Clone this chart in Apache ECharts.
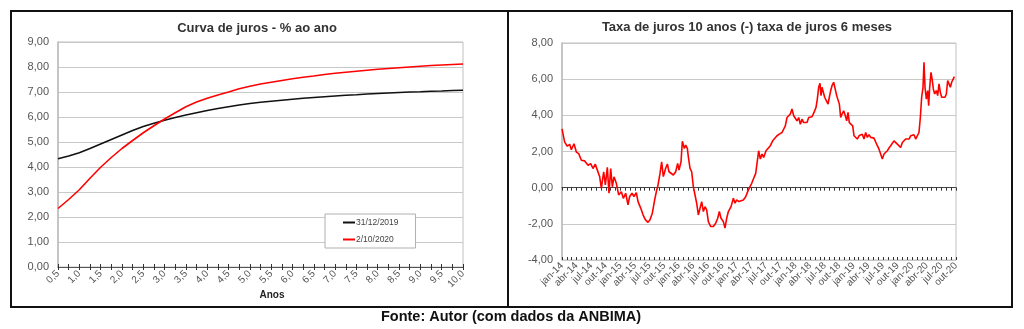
<!DOCTYPE html>
<html><head><meta charset="utf-8">
<script src="https://cdn.jsdelivr.net/npm/echarts@6/dist/echarts.min.js"></script>
<style>html,body{margin:0;padding:0;background:#fff}#c{width:1024px;height:329px}</style>
</head><body><div id="c"></div>
<script>
// ---- Left chart: yield curves ----
const years = [0.5,0.75,1.0,1.25,1.5,1.75,2.0,2.25,2.5,2.75,3.0,3.25,3.5,3.75,4.0,4.25,4.5,4.75,5.0,5.25,5.5,5.75,6.0,6.25,6.5,6.75,7.0,7.25,7.5,7.75,8.0,8.25,8.5,8.75,9.0,9.25,9.5,9.75,10.0];
const curve2019 = [4.33,4.44,4.57,4.74,4.92,5.10,5.28,5.46,5.62,5.75,5.87,5.98,6.08,6.17,6.26,6.34,6.41,6.48,6.54,6.59,6.63,6.67,6.71,6.75,6.78,6.81,6.84,6.87,6.89,6.92,6.94,6.96,6.98,7.00,7.01,7.03,7.04,7.06,7.07];
const curve2020 = [2.34,2.70,3.09,3.55,3.99,4.38,4.74,5.06,5.37,5.65,5.92,6.17,6.41,6.60,6.75,6.88,7.00,7.13,7.23,7.32,7.39,7.46,7.53,7.59,7.64,7.70,7.75,7.79,7.83,7.87,7.91,7.94,7.97,8.00,8.03,8.06,8.08,8.10,8.12];
const seriesNames = ['31/12/2019','2/10/2020'];

// ---- Right chart: 10y minus 6m spread (x = months since jan-14) ----
const quarterLabels = ['jan-14','abr-14','jul-14','out-14','jan-15','abr-15','jul-15','out-15','jan-16','abr-16','jul-16','out-16','jan-17','abr-17','jul-17','out-17','jan-18','abr-18','jul-18','out-18','jan-19','abr-19','jul-19','out-19','jan-20','abr-20','jul-20','out-20'];
const spreadMonths = [0,0.55,1.10,1.58,1.92,2.47,2.95,3.43,3.98,4.66,5.35,5.89,6.37,6.85,7.27,7.75,8.09,8.57,8.91,9.32,9.66,10.01,10.35,10.69,11.17,11.65,12.20,12.61,13.09,13.57,13.91,14.39,14.80,15.28,15.63,16.18,16.66,17.13,17.68,18.09,18.57,19.05,19.47,
19.67,20.15,20.49,20.83,21.31,21.66,22.00,22.41,22.89,23.37,23.78,24.05,24.47,24.74,25.15,25.43,25.77,25.97,26.32,26.66,27.00,27.34,27.69,28.03,28.37,28.72,29.06,29.40,29.74,30.09,30.57,31.11,31.59,32.01,32.35,32.69,33.17,33.51,33.86,34.20,34.75,35.23,35.57,35.91,36.39,36.80,37.28,37.76,38.17,38.65,39.00,39.41,39.82,
40.09,40.43,40.77,41.12,41.46,41.94,42.35,42.83,43.31,43.72,44.20,44.68,45.23,45.64,45.91,46.26,46.60,46.94,47.28,47.63,47.97,48.31,48.66,49.00,49.34,49.68,50.03,50.37,50.71,51.05,51.40,51.81,52.22,52.49,52.77,53.04,53.25,53.45,53.73,54.00,54.34,54.69,54.96,55.24,55.51,55.85,56.19,56.47,56.74,57.02,57.29,57.57,57.91,58.25,58.53,58.80,59.07,59.48,59.76,
60.03,60.37,60.71,61.06,61.40,61.74,62.08,62.43,62.77,63.11,63.46,63.80,64.14,64.48,64.83,65.17,65.51,65.85,66.20,66.54,66.88,67.22,67.57,67.91,68.25,68.60,68.94,69.28,69.62,69.97,70.31,70.65,70.99,71.34,71.68,72.02,72.37,72.71,73.05,73.39,73.67,73.94,74.22,74.42,74.63,74.90,75.18,75.38,75.59,75.86,76.13,76.34,76.61,76.96,77.23,77.51,77.78,78.05,78.40,78.74,79.01,79.29,79.56,79.84,80.11,80.38,80.66];
const spreadValues = [3.25,2.52,2.29,2.40,2.10,2.43,1.97,1.88,1.52,1.48,1.24,1.33,1.06,1.30,0.97,0.60,-0.04,0.88,0.15,1.12,-0.31,1.06,0.05,0.60,0.24,-0.40,-0.22,-0.59,-0.31,-0.95,-0.49,-0.31,-0.49,-0.27,-0.77,-1.13,-1.50,-1.77,-1.92,-1.77,-1.41,-0.68,-0.13,
0.05,0.79,1.43,0.61,1.07,1.31,0.88,0.97,0.70,0.88,1.34,0.97,1.43,2.57,2.17,2.35,2.17,1.71,1.07,0.88,0.06,0.15,-0.86,-1.51,-1.14,-0.77,-1.32,-1.05,-1.23,-1.88,-2.15,-2.15,-1.97,-1.69,-1.32,-1.69,-1.88,-2.24,-1.69,-1.32,-1.05,-0.59,-0.86,-0.68,-0.77,-0.86,-0.68,-0.50,-0.22,0.06,0.24,0.52,0.79,
0.75,2.04,1.58,1.86,1.67,2.04,1.95,2.32,2.59,2.69,2.87,2.96,3.05,3.14,3.42,3.88,3.79,4.07,4.35,3.98,3.88,3.70,3.88,3.51,3.79,3.60,3.70,3.60,3.88,3.98,3.92,4.16,4.44,4.90,5.55,5.77,5.09,5.55,5.64,5.00,4.90,4.62,5.00,5.37,5.64,5.83,5.74,5.09,5.18,4.62,3.88,4.07,4.25,3.98,3.70,4.16,3.60,3.60,3.42,
2.87,2.96,2.69,2.87,2.78,2.96,2.69,3.05,2.78,2.93,2.78,2.87,2.74,2.78,2.32,2.13,1.86,1.58,1.86,1.95,2.04,2.19,2.32,2.41,2.59,2.50,2.41,2.50,2.22,2.50,2.59,2.69,2.78,2.69,2.87,2.78,2.93,2.69,2.59,3.05,3.88,5.00,5.55,6.93,5.55,4.90,5.37,4.53,5.55,6.38,5.92,5.46,5.18,5.37,5.09,5.74,5.27,5.00,4.90,5.00,5.18,5.92,5.74,5.55,5.83,5.92,6.14];

const FONT = '"Liberation Sans", Arial, sans-serif';
const comma = (v, d) => Number(v).toFixed(d).replace('.', ',');
const spreadData = spreadMonths.map((m, i) => [m, spreadValues[i]]);

const chart = echarts.init(document.getElementById('c'), null, {renderer: 'canvas'});
const gridLine = {show: true, lineStyle: {color: '#c8c8c8', width: 1}};
const yLabel = {fontSize: 11, color: '#555', fontFamily: FONT, margin: 9, formatter: v => comma(v, 2)};

chart.setOption({
  animation: false,
  textStyle: {fontFamily: FONT},
  grid: [
    {left: 58, right: 561, top: 42, bottom: 62, show: true, borderColor: '#c0c0c0', borderWidth: 1},
    {left: 562, right: 68, top: 43, bottom: 69, show: true, borderColor: '#c0c0c0', borderWidth: 1}
  ],
  legend: {
    data: [
      {name: seriesNames[0], icon: 'rect'},
      {name: seriesNames[1], icon: 'rect'}
    ],
    orient: 'vertical', left: 325, top: 214,
    itemWidth: 12, itemHeight: 2, itemGap: 8,
    padding: [4, 17, 4, 18],
    backgroundColor: '#fff', borderColor: '#b0b0b0', borderWidth: 1, borderRadius: 0,
    textStyle: {fontSize: 8.5, color: '#444', fontFamily: FONT, padding: [0, 0, 0, -4]},
    selectedMode: false
  },
  xAxis: [
    {gridIndex: 0, type: 'category', data: years, boundaryGap: false,
     axisLine: {onZero: false, lineStyle: {color: '#555', width: 1}},
     axisTick: {interval: 0, length: 3, lineStyle: {color: '#333'}},
     axisLabel: {interval: 1, rotate: 45, fontSize: 10, color: '#555', margin: 5, formatter: v => comma(v, 1)},
     splitLine: {show: false}},
    {gridIndex: 0, type: 'category', data: years, boundaryGap: false, position: 'bottom',
     axisLine: {show: false}, axisTick: {inside: true, interval: 0, length: 3, lineStyle: {color: '#333'}},
     axisLabel: {show: false}, splitLine: {show: false}},
    {gridIndex: 1, type: 'value', min: 0, max: 81, interval: 3, position: 'bottom',
     axisLine: {show: false, onZero: false}, axisTick: {show: false},
     axisLabel: {rotate: 45, fontSize: 10, color: '#555', margin: 4, formatter: v => quarterLabels[Math.round(v / 3)]},
     splitLine: {show: false}},
    {gridIndex: 1, type: 'value', min: 0, max: 81, interval: 1, position: 'bottom',
     axisLine: {onZero: true, lineStyle: {color: '#444', width: 1}},
     axisTick: {length: 3, lineStyle: {color: '#333'}}, axisLabel: {show: false}, splitLine: {show: false}},
    {gridIndex: 1, type: 'value', min: 0, max: 81, interval: 1, position: 'bottom',
     axisLine: {show: false, onZero: true},
     axisTick: {inside: true, length: 3, lineStyle: {color: '#333'}}, axisLabel: {show: false}, splitLine: {show: false}}
  ],
  yAxis: [
    {gridIndex: 0, type: 'value', min: 0, max: 9, interval: 1,
     axisLine: {show: true, onZero: false, lineStyle: {color: '#bdbdbd', width: 1.5}}, axisTick: {show: false},
     axisLabel: yLabel, splitLine: gridLine},
    {gridIndex: 1, type: 'value', min: -4, max: 8, interval: 2,
     axisLine: {show: true, onZero: false, lineStyle: {color: '#bdbdbd', width: 1.5}}, axisTick: {show: false},
     axisLabel: yLabel, splitLine: gridLine}
  ],
  series: [
    {name: seriesNames[0], type: 'line', xAxisIndex: 0, yAxisIndex: 0, data: curve2019,
     showSymbol: false, lineStyle: {color: '#111', width: 1.6}, itemStyle: {color: '#111'}},
    {name: seriesNames[1], type: 'line', xAxisIndex: 0, yAxisIndex: 0, data: curve2020,
     showSymbol: false, lineStyle: {color: '#ff0000', width: 1.6}, itemStyle: {color: '#ff0000'}},
    {name: 'spread', type: 'line', xAxisIndex: 2, yAxisIndex: 1, data: spreadData,
     showSymbol: false, lineStyle: {color: '#ff0000', width: 1.6}, itemStyle: {color: '#ff0000'}}
  ],
  graphic: [
    {type: 'rect', shape: {x: 11, y: 11, width: 1001, height: 296}, style: {fill: null, stroke: '#111', lineWidth: 2}, silent: true},
    {type: 'line', shape: {x1: 508, y1: 11, x2: 508, y2: 307}, style: {stroke: '#111', lineWidth: 2}, silent: true},
    {type: 'text', x: 257, y: 28, style: {text: 'Curva de juros - % ao ano', align: 'center', verticalAlign: 'middle', fontSize: 13, fontWeight: 'bold', fontFamily: FONT, fill: '#333'}},
    {type: 'text', x: 747, y: 27, style: {text: 'Taxa de juros 10 anos (-) taxa de juros 6 meses', align: 'center', verticalAlign: 'middle', fontSize: 13, fontWeight: 'bold', fontFamily: FONT, fill: '#333'}},
    {type: 'text', x: 272, y: 295, style: {text: 'Anos', align: 'center', verticalAlign: 'middle', fontSize: 10, fontWeight: 'bold', fontFamily: FONT, fill: '#222'}},
    {type: 'text', x: 511, y: 317, style: {text: 'Fonte: Autor (com dados da ANBIMA)', align: 'center', verticalAlign: 'middle', fontSize: 14.5, fontWeight: 'bold', fontFamily: FONT, fill: '#111'}}
  ]
});
</script>
</body></html>
